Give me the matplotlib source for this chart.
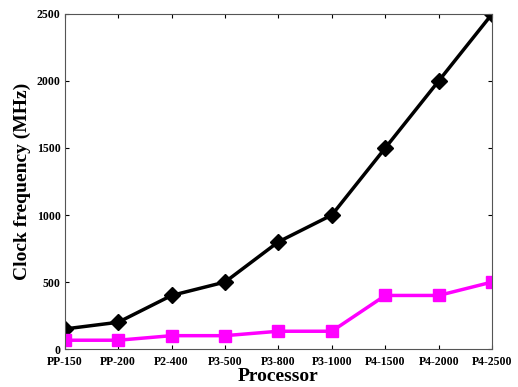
import numpy as np
import matplotlib
matplotlib.use("Agg")
import matplotlib.pyplot as plt

processors = ["PP-150", "PP-200", "P2-400", "P3-500", "P3-800", "P3-1000",
              "P4-1500", "P4-2000", "P4-2500"]
clock = [150, 200, 400, 500, 800, 1000, 1500, 2000, 2500]
bus = [66, 66, 100, 100, 133, 133, 400, 400, 500]

plt.rcParams['font.family'] = 'Liberation Serif'
plt.rcParams['font.weight'] = 'bold'

fig, ax = plt.subplots(figsize=(5.18, 3.87), dpi=100)
x = np.arange(1, len(processors) + 1)
ax.plot(x, clock, color="black", lw=2.5, marker="D", ms=8)
ax.plot(x, bus, color="#ff00ff", lw=2.5, marker="s", ms=8)

ax.set_xlim(1, 9)
ax.set_ylim(0, 2500)
ax.set_xticks(x)
ax.set_xticklabels(processors)
ax.set_yticks([0, 500, 1000, 1500, 2000, 2500])
ax.tick_params(direction="in", top=True, right=True, labelsize=8.5, length=3, pad=3)
ax.tick_params(axis="x", pad=5)
for lab in ax.get_xticklabels() + ax.get_yticklabels():
    lab.set_fontweight("bold")
ax.set_xlabel("Processor", fontsize=14, fontweight="bold", labelpad=0)
ax.set_ylabel("Clock frequency (MHz)", fontsize=14, fontweight="bold", labelpad=4)
for s in ax.spines.values():
    s.set_color("#555555")

fig.subplots_adjust(left=0.125, right=0.95, top=0.964, bottom=0.098)
fig.savefig("out.png", dpi=100)
